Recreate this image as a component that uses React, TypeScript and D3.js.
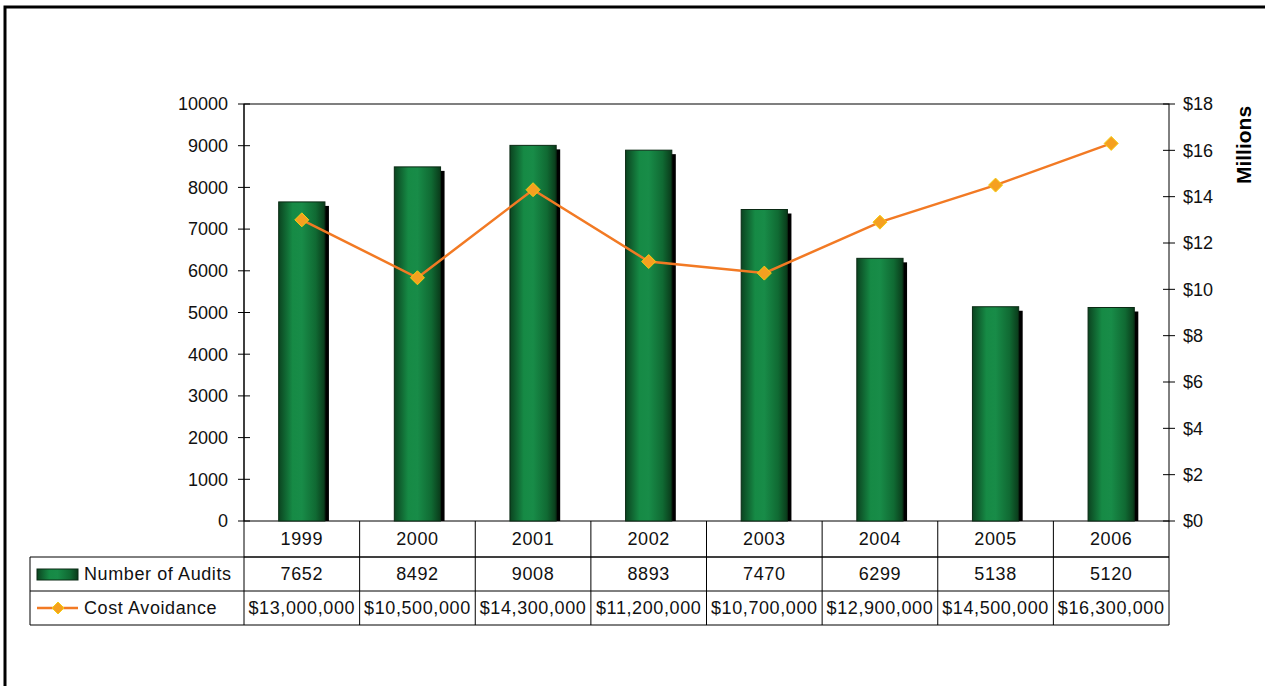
import React from "react";
import * as d3 from "d3";

const years = ["1999", "2000", "2001", "2002", "2003", "2004", "2005", "2006"];
const audits = [7652, 8492, 9008, 8893, 7470, 6299, 5138, 5120];
const costAvoidance = [13000000, 10500000, 14300000, 11200000, 10700000, 12900000, 14500000, 16300000];
const leftTicks = [0, 1000, 2000, 3000, 4000, 5000, 6000, 7000, 8000, 9000, 10000];
const rightTicks = [0, 2, 4, 6, 8, 10, 12, 14, 16, 18];

const W = 1265;
const H = 686;
const plot = { left: 244, right: 1169, top: 104, bottom: 521 };
const rowH = [36, 34, 34];
const legendLeft = 30;

const font = "'Liberation Sans', Arial, sans-serif";

const App: React.FC = () => {
  const x = d3.scaleBand().domain(years).range([plot.left, plot.right]);
  const yL = d3.scaleLinear().domain([0, 10000]).range([plot.bottom, plot.top]);
  const yR = d3.scaleLinear().domain([0, 18]).range([plot.bottom, plot.top]);
  const barW = x.bandwidth() * 0.4;

  const pts = costAvoidance.map((v, i) => [x(years[i])! + x.bandwidth() / 2, yR(v / 1e6)] as [number, number]);
  const line = d3.line()(pts) || "";

  const fmtMoney = (v: number) => "$" + d3.format(",")(v);
  const r1 = plot.bottom + rowH[0];
  const r2 = r1 + rowH[1];
  const r3 = r2 + rowH[2];
  const diamond = (cx: number, cy: number, s: number) =>
    `M${cx},${cy - s}L${cx + s},${cy}L${cx},${cy + s}L${cx - s},${cy}Z`;

  const tableText = { fontFamily: font, fontSize: 18, letterSpacing: 0.6, fill: "#111" };

  return (
    <svg width={W} height={H} style={{ position: "absolute", left: 0, top: 0, background: "#fff" }}>
      <defs>
        <linearGradient id="barGrad" x1="0" x2="1" y1="0" y2="0">
          <stop offset="0%" stopColor="#0b4420" />
          <stop offset="30%" stopColor="#168a45" />
          <stop offset="50%" stopColor="#188c48" />
          <stop offset="80%" stopColor="#106a33" />
          <stop offset="100%" stopColor="#0a3a1a" />
        </linearGradient>
      </defs>
      {/* outer frame */}
      <path d={`M5,${H}V7H${W}`} fill="none" stroke="#000" strokeWidth={3} />

      {/* plot box */}
      <rect x={plot.left} y={plot.top} width={plot.right - plot.left} height={plot.bottom - plot.top} fill="none" stroke="#000" strokeWidth={1} />

      {/* bars */}
      {audits.map((v, i) => {
        const bx = x(years[i])! + (x.bandwidth() - barW) / 2;
        const by = yL(v);
        return (
          <g key={years[i]}>
            <rect x={bx + 4} y={by + 4} width={barW} height={plot.bottom - by - 4} fill="#000" />
            <rect x={bx} y={by} width={barW} height={plot.bottom - by} fill="url(#barGrad)" stroke="#0a2a14" strokeWidth={1} />
          </g>
        );
      })}

      {/* line */}
      <path d={line} fill="none" stroke="#f27a24" strokeWidth={2.5} />
      {pts.map(([cx, cy], i) => (
        <path key={i} d={diamond(cx, cy, 7)} fill="#f5a020" stroke="#f5cc10" strokeWidth={1} />
      ))}

      {/* left axis */}
      <line x1={plot.left} x2={plot.left} y1={plot.top} y2={plot.bottom} stroke="#000" />
      {leftTicks.map((t) => (
        <g key={t}>
          <line x1={plot.left - 6} x2={plot.left + 6} y1={yL(t)} y2={yL(t)} stroke="#000" />
          <text x={plot.left - 16} y={yL(t)} dy="0.35em" textAnchor="end" fontFamily={font} fontSize={18} fill="#111">
            {t}
          </text>
        </g>
      ))}

      {/* right axis */}
      {rightTicks.map((t) => (
        <g key={t}>
          <line x1={plot.right - 6} x2={plot.right + 6} y1={yR(t)} y2={yR(t)} stroke="#000" />
          <text x={plot.right + 14} y={yR(t)} dy="0.35em" textAnchor="start" fontFamily={font} fontSize={18} fill="#111">
            {"$" + t}
          </text>
        </g>
      ))}
      <text
        transform={`translate(1251,145) rotate(-90)`}
        textAnchor="middle"
        fontFamily={font}
        fontSize={21}
        fontWeight="bold"
        fill="#000"
      >
        Millions
      </text>

      {/* data table */}
      <g stroke="#000" strokeWidth={1} fill="none">
        <line x1={plot.left} x2={plot.right} y1={r1} y2={r1} />
        <line x1={legendLeft} x2={plot.right} y1={r1} y2={r1} />
        <line x1={legendLeft} x2={plot.right} y1={r2} y2={r2} />
        <line x1={legendLeft} x2={plot.right} y1={r3} y2={r3} />
        <line x1={legendLeft} x2={legendLeft} y1={r1} y2={r3} />
        {years.map((yr) => (
          <line key={yr} x1={x(yr)!} x2={x(yr)!} y1={plot.bottom} y2={r3} />
        ))}
        <line x1={plot.right} x2={plot.right} y1={plot.bottom} y2={r3} />
      </g>
      {years.map((yr, i) => {
        const cx = x(yr)! + x.bandwidth() / 2;
        return (
          <g key={yr}>
            <text x={cx} y={(plot.bottom + r1) / 2} dy="0.35em" textAnchor="middle" {...tableText}>
              {yr}
            </text>
            <text x={cx} y={(r1 + r2) / 2} dy="0.35em" textAnchor="middle" {...tableText}>
              {audits[i]}
            </text>
            <text x={cx} y={(r2 + r3) / 2} dy="0.35em" textAnchor="middle" {...tableText}>
              {fmtMoney(costAvoidance[i])}
            </text>
          </g>
        );
      })}

      {/* legend keys */}
      <rect x={37} y={(r1 + r2) / 2 - 5} width={41} height={11} fill="url(#barGrad)" stroke="#0a2a14" />
      <text x={84} y={(r1 + r2) / 2} dy="0.35em" {...tableText}>
        Number of Audits
      </text>
      <line x1={37} x2={78} y1={(r2 + r3) / 2} y2={(r2 + r3) / 2} stroke="#f27a24" strokeWidth={2.5} />
      <path d={diamond(58, (r2 + r3) / 2, 6)} fill="#f5a020" stroke="#f5cc10" strokeWidth={1} />
      <text x={84} y={(r2 + r3) / 2} dy="0.35em" {...tableText}>
        Cost Avoidance
      </text>
    </svg>
  );
};

export default App;
